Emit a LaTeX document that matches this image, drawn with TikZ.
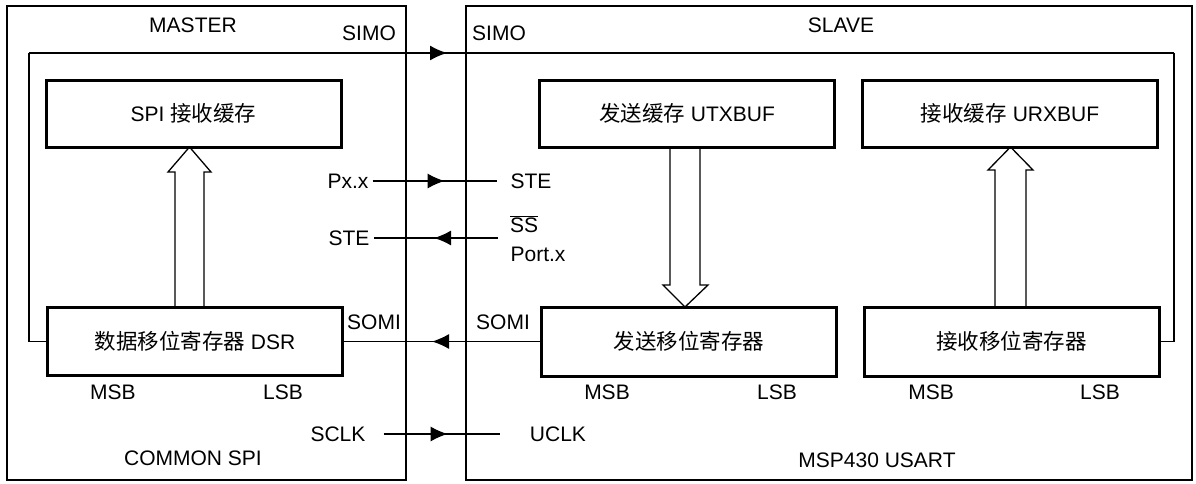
\documentclass[tikz,border=0pt]{standalone}
\usepackage{fontspec}
\setmainfont{Liberation Sans}
\newfontfamily\cjk{Noto Sans CJK SC}
\usetikzlibrary{arrows.meta,decorations.markings,calc}
\begin{document}
\begin{tikzpicture}[x=1pt,y=-1pt,
  outer/.style={draw, line width=2pt, inner sep=0pt},
  reg/.style={draw, line width=3pt, minimum height=67pt, minimum width=295pt, inner sep=0pt, font=\fontsize{21}{21}\selectfont},
  lbl/.style={inner sep=0pt, font=\fontsize{21}{21}\selectfont, text height=15pt, text depth=0pt},
  conn/.style={line width=1.3pt},
  hollow/.style={draw, line width=1.3pt},
  arrowat/.style={postaction={decorate}, decoration={markings, mark=at position #1 with {\arrow{Latex[length=17pt,width=15pt]}}}}
]
\useasboundingbox (0,0) rectangle (1196,483);
\fill[white] (0,0) rectangle (1196,483);

% outer boxes
\node[outer, minimum width=399pt, minimum height=474pt] (master) at (206.5,243) {};
\node[outer, minimum width=726pt, minimum height=474pt] (slave) at (829,243) {};

% registers
\node[reg] (SPI) at (193.5,113.5) {SPI {\cjk\fontsize{21.5}{21.5}\selectfont 接收缓存}};
\node[reg, minimum height=68pt] (DSR) at (195,341.5) {{\cjk\fontsize{21.5}{21.5}\selectfont 数据移位寄存器} DSR};
\node[reg] (UTX) at (687,113.5) {{\cjk\fontsize{21.5}{21.5}\selectfont 发送缓存} UTXBUF};
\node[reg] (URX) at (1010,113.5) {{\cjk\fontsize{21.5}{21.5}\selectfont 接收缓存} URXBUF};
\node[reg, minimum height=69pt] (TXSR) at (689,341.5) {{\cjk\fontsize{21.5}{21.5}\selectfont 发送移位寄存器}};
\node[reg, minimum height=69pt] (RXSR) at (1011.5,341.5) {{\cjk\fontsize{21.5}{21.5}\selectfont 接收移位寄存器}};

% labels
\node[lbl] (mastert) at (193,25) {MASTER};
\node[lbl] (slavet) at (841,25) {SLAVE};
\node[lbl] (simoM) at (369,33) {SIMO};
\node[lbl] (simoS) at (499,33) {SIMO};
\node[lbl] (pxx) at (348,181) {Px.x};
\node[lbl] (steS) at (531,181) {STE};
\node[lbl] (ss) at (524,225) {$\overline{\hbox{SS}}$};
\node[lbl] (steM) at (349,238) {STE};
\node[lbl] (portx) at (538,254) {Port.x};
\node[lbl] (somiM) at (374,322) {SOMI};
\node[lbl] (somiS) at (503,322) {SOMI};
\node[lbl] (msb1) at (113,392) {MSB};
\node[lbl] (lsb1) at (283,392) {LSB};
\node[lbl] (msb2) at (607,392) {MSB};
\node[lbl] (lsb2) at (777,392) {LSB};
\node[lbl] (msb3) at (931,392) {MSB};
\node[lbl] (lsb3) at (1100,392) {LSB};
\node[lbl] (sclk) at (338,434) {SCLK};
\node[lbl] (uclk) at (558,434) {UCLK};
\node[lbl] (cspi) at (193,458) {COMMON SPI};
\node[lbl] (usart) at (877,460) {MSP430 USART};

% hollow arrows
\draw[hollow] (175,307) -- (175,172) -- (168,172) -- (189.5,147) -- (211,172) -- (204,172) -- (204,307);
\draw[hollow] (670,147) -- (670,285) -- (663,285) -- (685,307) -- (708,285) -- (700,285) -- (700,147);
\draw[hollow] (995,307) -- (995,170) -- (988,170) -- (1010.5,147) -- (1033,170) -- (1026,170) -- (1026,307);

% SIMO loop
\coordinate (simoL) at (29,53);
\coordinate (simoR) at (1174,53);
\draw[conn] (DSR.west) -| (simoL);
\draw[conn, arrowat=418pt] (simoL) -- (simoR);
\draw[conn] (simoR) |- (RXSR.east);

% STE lines
\draw[conn, arrowat=72pt] ([xshift=4pt]pxx.east) -- ([xshift=-13pt]steS.west);
\coordinate (ssEnd) at (498,238);
\draw[conn, arrowat=64pt] (ssEnd) -- ([xshift=4pt]steM.east);

% SOMI
\draw[conn, arrowat=108pt] (TXSR.west) -- (DSR.east);

% SCLK
\coordinate (uclkEnd) at (500,434);
\draw[conn, arrowat=64pt] ([xshift=18pt]sclk.east) -- (uclkEnd);
\end{tikzpicture}
\end{document}
